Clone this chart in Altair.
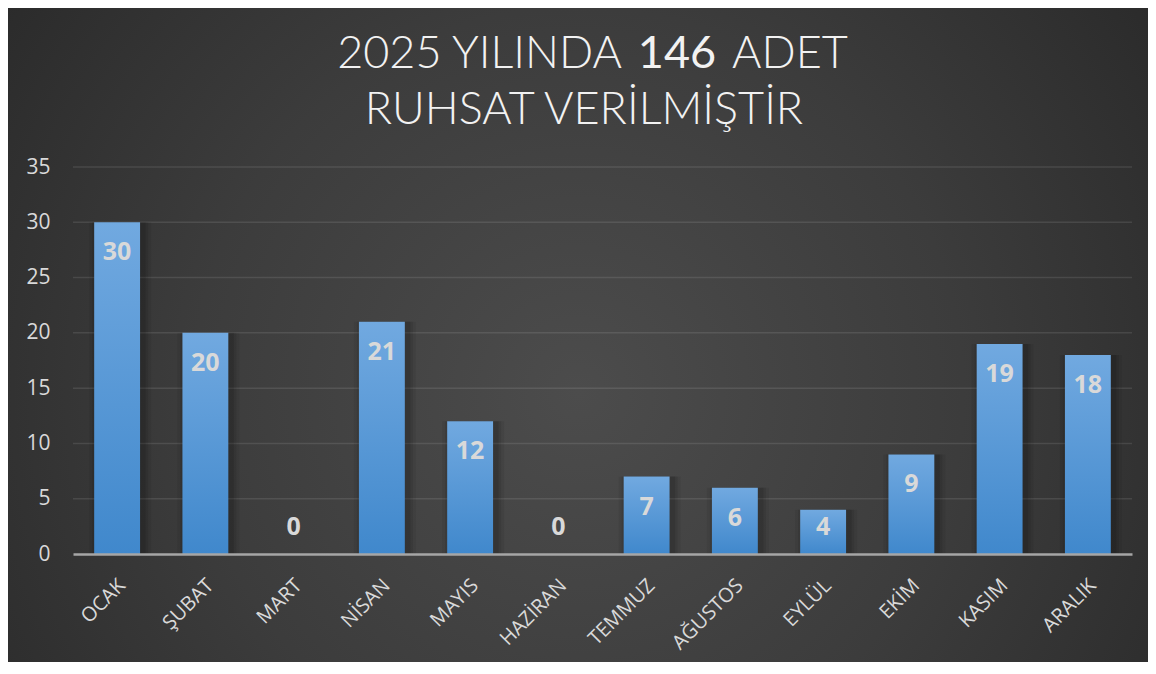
import altair as alt
import pandas as pd

months = ["OCAK", "ŞUBAT", "MART", "NİSAN", "MAYIS", "HAZİRAN",
          "TEMMUZ", "AĞUSTOS", "EYLÜL", "EKİM", "KASIM", "ARALIK"]
counts = [30, 20, 0, 21, 12, 0, 7, 6, 4, 9, 19, 18]
y_ticks = [0, 5, 10, 15, 20, 25, 30, 35]
title_line1 = ["2025 YILINDA", "146", "ADET"]
title_line2 = "RUHSAT VERİLMİŞTİR"

W, H = 1059, 387
PL, PT, PR, PB = 65, 159, 16, 108

df = pd.DataFrame({"month": months, "count": counts})
grid_df = pd.DataFrame({"count": y_ticks[1:]})
one = pd.DataFrame({"k": [0]})

FONT = "Open Sans"
TITLE_FONT = "Lato"
LABEL_COLOR = "#d9d9d9"

x_enc = alt.X(
    "month:N", sort=months, title=None,
    scale=alt.Scale(paddingInner=0.48, paddingOuter=0.24),
    axis=alt.Axis(labelAngle=-45, labelFont=FONT, labelFontSize=20,
                  labelColor=LABEL_COLOR, labelPadding=21, labelOffset=-2,
                  ticks=False, domainColor="#a6a6a6", domainWidth=2.5,
                  grid=False, zindex=1),
)
y_scale = alt.Scale(domain=[0, 35], nice=False)
y_axis = alt.Axis(values=y_ticks, labelFont=FONT, labelFontSize=21,
                  labelColor=LABEL_COLOR, labelPadding=23, ticks=False,
                  domain=False, grid=False, zindex=1)
y_enc = alt.Y("count:Q", title=None, scale=y_scale, axis=y_axis)

bg = alt.Chart(one).mark_rect(
    fill=alt.RadialGradient(
        gradient="radial",
        stops=[alt.GradientStop(offset=0, color="#4c4c4c"),
               alt.GradientStop(offset=0.45, color="#3c3c3c"),
               alt.GradientStop(offset=1, color="#222222")],
        x1=0.5, y1=0.55, r1=0, x2=0.5, y2=0.55, r2=0.75,
    )
).encode(x=alt.value(-PL), x2=alt.value(W + PR),
         y=alt.value(-PT), y2=alt.value(H + PB))

grid = alt.Chart(grid_df).mark_rule(color="white", opacity=0.1, strokeWidth=1.5).encode(
    y=y_enc
)

base = alt.Chart(df)

shadows = [
    base.mark_bar(color="black", opacity=op, size=sz, xOffset=3).encode(
        x=x_enc, y=y_enc)
    for sz, op in [(62, 0.06), (56, 0.08), (51, 0.1)]
]

bars = base.mark_bar(
    fill=alt.LinearGradient(
        gradient="linear",
        stops=[alt.GradientStop(offset=0, color="#71a9e0"),
               alt.GradientStop(offset=1, color="#4088cc")],
        x1=0, x2=0, y1=0, y2=1,
    )
).encode(x=x_enc, y=y_enc)

labels_big = base.transform_filter("datum.count >= 5.2").mark_text(
    font=FONT, fontWeight="bold", fontSize=25, color=LABEL_COLOR,
    baseline="middle", dy=30,
).encode(x=x_enc, y=y_enc, text="count:Q")

labels_small = base.transform_filter("datum.count < 5.2").mark_text(
    font=FONT, fontWeight="bold", fontSize=25, color=LABEL_COLOR,
    baseline="middle", dy=-27,
).encode(x=x_enc, y=alt.datum(0, scale=y_scale), text="count:Q")

TS = 45
tbase = alt.Chart(one)
t1a = tbase.mark_text(font=TITLE_FONT, fontWeight=300, fontSize=TS, color="#f2f2f2",
                      align="right", baseline="alphabetic").encode(
    x=alt.value(549), y=alt.value(-99), text=alt.value(title_line1[0]))
t1b = tbase.mark_text(font=TITLE_FONT, fontWeight=400, fontSize=TS, color="#f2f2f2",
                      align="center", baseline="alphabetic").encode(
    x=alt.value(604), y=alt.value(-99), text=alt.value(title_line1[1]))
t1c = tbase.mark_text(font=TITLE_FONT, fontWeight=300, fontSize=TS, color="#f2f2f2",
                      align="left", baseline="alphabetic").encode(
    x=alt.value(659), y=alt.value(-99), text=alt.value(title_line1[2]))
t2 = tbase.mark_text(font=TITLE_FONT, fontWeight=300, fontSize=TS, color="#f2f2f2",
                     align="center", baseline="alphabetic").encode(
    x=alt.value(511), y=alt.value(-43), text=alt.value(title_line2))

chart = alt.layer(
    bg, grid, *shadows, bars, labels_big, labels_small, t1a, t1b, t1c, t2
).properties(
    width=W, height=H,
    padding={"left": PL, "top": PT, "right": PR, "bottom": PB},
    autosize=alt.AutoSizeParams(type="none"),
    background="#262626",
).configure_view(strokeWidth=0)

chart.save("out.html", embed_options={"renderer": "svg", "actions": False})
